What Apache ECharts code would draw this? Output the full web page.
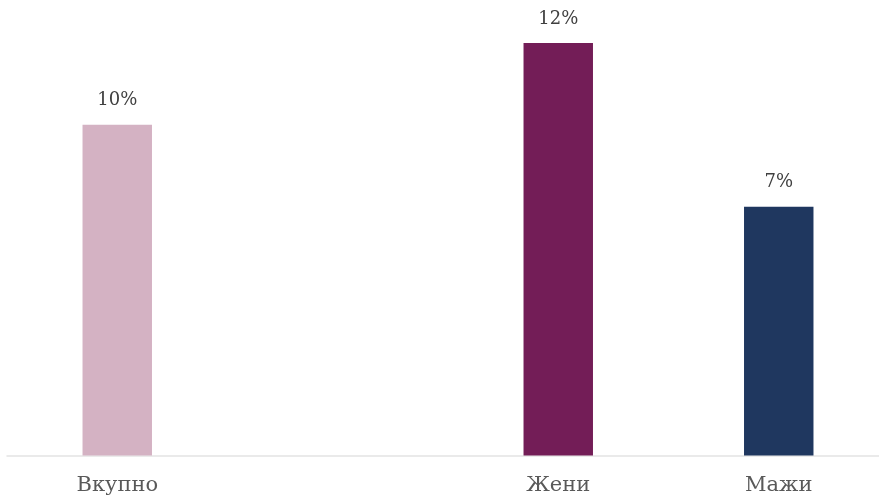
<!DOCTYPE html>
<html>
<head>
<meta charset="utf-8">
<script src="https://cdn.jsdelivr.net/npm/echarts@6/dist/echarts.min.js"></script>
<style>
  html, body { margin: 0; padding: 0; background: #ffffff; overflow: hidden; }
  /* the plot runs slightly past the right edge of the window */
  #chart { width: 889px; height: 500px; }
</style>
</head>
<body>
<div id="chart"></div>
<script>
// Categories (the second slot is an intentionally empty spacer column)
const categories = ['Вкупно', '', 'Жени', 'Мажи'];
// Shares, as fractions
const values = [0.097, null, 0.121, 0.073];
// Bar colours per category
const barColors = ['#d4b2c3', null, '#731d57', '#1f375f'];

const FONT = '"DejaVu Serif", "Liberation Serif", serif';

const chart = echarts.init(document.getElementById('chart'), null, { renderer: 'canvas' });

chart.setOption({
  animation: false,
  backgroundColor: '#ffffff',
  grid: { left: 7, right: 0, top: 43, bottom: 44.5, containLabel: false },
  xAxis: {
    type: 'category',
    data: categories,
    boundaryGap: true,
    axisLine: { show: true, lineStyle: { color: '#e3e3e3', width: 1.5 } },
    axisTick: { show: false },
    axisLabel: { color: '#595959', fontFamily: FONT, fontSize: 21, margin: 20 }
  },
  yAxis: {
    type: 'value',
    min: 0,
    max: function (v) { return v.max; },
    show: false,
    splitLine: { show: false }
  },
  series: [{
    type: 'bar',
    barWidth: '31.5%',
    data: values.map(function (v, i) {
      return v == null ? null : { value: v, itemStyle: { color: barColors[i] } };
    }),
    label: {
      show: true,
      position: 'top',
      distance: 15,
      color: '#404040',
      fontFamily: FONT,
      fontSize: 18,
      formatter: function (p) { return Math.round(p.value * 100) + '%'; }
    }
  }]
});
</script>
</body>
</html>
